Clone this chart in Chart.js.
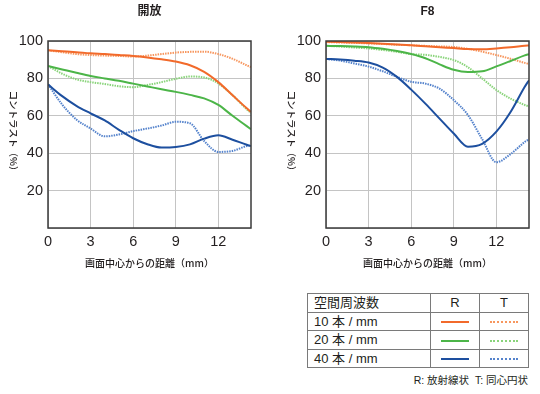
<!DOCTYPE html>
<html>
<head>
<meta charset="utf-8">
<script src="https://cdn.jsdelivr.net/npm/chart.js@4/dist/chart.umd.min.js"></script>
<style>
    body { margin: 0; background: #fff; font-family: "Liberation Sans", "Noto Sans CJK JP", sans-serif; color: #231f20; }
    #page { position: relative; width: 540px; height: 394px; overflow: hidden; }
    .box { position: absolute; top: 0; width: 270px; height: 280px; }
    #legend { position: absolute; left: 307px; top: 293px; border-collapse: collapse; font-size: 13px; }
    #legend td { border: 1px solid #7a7a7a; padding: 0 0 0 6px; height: 17.5px; line-height: 17px; }
    #legend td.c { width: 48px; padding: 0; text-align: center; }
    #legend td.name { width: 116px; }
    .mark { display: inline-block; width: 28px; vertical-align: middle; border-top-width: 2px; }
    #note { position: absolute; right: 12px; top: 372px; font-size: 10.5px; }
</style>
</head>
<body>
<div id="page">
    <div class="box" style="left:0"><canvas id="open"></canvas></div>
    <div class="box" style="left:270px"><canvas id="f8"></canvas></div>
    <table id="legend"></table>
    <div id="note">R: 放射線状&nbsp;&nbsp;T: 同心円状</div>
</div>
<script>
// image height (mm) at which each value is read
var distance = [0, 1, 2, 3, 4, 5, 6, 7, 8, 9, 10, 11, 12, 13, 14, 14.3];
var xTicks = [0, 3, 6, 9, 12];
var yTicks = [0, 20, 40, 60, 80, 100];

var frequencies = ['10 本 / mm', '20 本 / mm', '40 本 / mm'];

// 開放
var open10R = [95, 94.5, 94, 93.4, 93, 92.5, 92, 91.2, 90.2, 89, 87, 83.5, 78, 71, 64, 62];
var open10T = [95, 94, 93, 92.5, 92.2, 92, 91.7, 92.2, 93, 93.8, 94.2, 94.3, 93, 90.5, 87, 86];
var open20R = [86.6, 84.8, 83, 81.3, 80, 78.7, 77.2, 75.7, 74.2, 72.8, 71.2, 69.3, 65.8, 60, 54.5, 52.8];
var open20T = [86.6, 82.5, 79.5, 78, 77, 75.8, 75.3, 76.5, 78, 79.8, 81, 80.5, 77.3, 71, 63.5, 61.5];
var open40R = [76.8, 70.5, 65.3, 61.3, 57.5, 52.5, 48, 44.8, 43, 43.3, 44.7, 47.8, 49.6, 47.2, 44.5, 43.8];
var open40T = [76.8, 66, 58, 53.2, 49, 50, 51.8, 53.2, 54.8, 56.8, 56, 46.5, 40.7, 41.2, 43.8, 44];

// F8
var f8_10R = [99.6, 99.4, 99.2, 98.9, 98.5, 98.1, 97.7, 97.2, 96.7, 96.2, 95.7, 95.6, 96, 96.6, 97.4, 97.6];
var f8_10T = [99.4, 99.2, 99, 98.7, 98.4, 98, 97.7, 97.4, 97.1, 96.8, 95.8, 94.3, 92.5, 90.5, 88.3, 87.7];
var f8_20R = [97.4, 97.3, 97.1, 96.7, 95.8, 94.6, 93, 90.8, 87.5, 84.6, 83.4, 83.8, 86.4, 89.3, 92.3, 93];
var f8_20T = [97.4, 97, 96.5, 96, 95.2, 94.2, 93, 92.6, 91.5, 89.8, 86, 80, 73.8, 69.2, 65.8, 65];
var f8_40R = [90.4, 90.1, 89.5, 88.5, 85.8, 80.8, 74, 66.5, 58.5, 50.5, 43.5, 45, 51.5, 62, 75.5, 79];
var f8_40T = [90.4, 89.5, 88, 86.3, 83.8, 80.8, 78.2, 77.2, 74.5, 68.4, 60.4, 47.5, 35.2, 39.5, 46, 47.4];

var solidColors = ['#f26a2b', '#4cb548', '#1d4f9f'];
var dottedColors = ['#f7975f', '#8ad47b', '#5583cc'];

var textColor = '#231f20';
var latin = '"Liberation Sans", "Noto Sans CJK JP", sans-serif';
var cjk = '"Noto Sans CJK JP", sans-serif';

function points(values) {
    return values.map(function (v, i) {
        return {x: distance[i], y: v};
    });
}

// titles and frame drawn on top of the plot area
var decor = {
    id: 'decor',
    afterDatasetsDraw: function (chart, args, opts) {
        var ctx = chart.ctx;
        var a = chart.chartArea;
        ctx.save();
        ctx.strokeStyle = '#3a3a3a';
        ctx.lineWidth = 1.5;
        ctx.strokeRect(a.left, a.top, a.right - a.left, a.bottom - a.top);

        ctx.fillStyle = textColor;
        ctx.textAlign = 'center';
        ctx.textBaseline = 'middle';
        var cx = (a.left + a.right) / 2;

        ctx.font = 'bold 12px ' + latin;
        ctx.fillText(opts.title, cx, 12);

        ctx.font = '500 10px ' + cjk;
        ctx.fillText('画面中心からの距離（mm）', cx, 263);

        ctx.translate(opts.yTitleX, 133);
        ctx.rotate(Math.PI / 2);
        ctx.font = '500 9.5px ' + cjk;
        ctx.fillText('コントラスト（%）', 0, 0);
        ctx.restore();
    }
};

function makeChart(id, title, series, yWidth, rightPad, yTitleX) {
    var datasets = [];
    for (var i = 0; i < 3; i++) {
        datasets.push({
            label: frequencies[i] + ' R',
            data: points(series[i * 2]),
            borderColor: solidColors[i],
            borderWidth: 2
        });
        datasets.push({
            label: frequencies[i] + ' T',
            data: points(series[i * 2 + 1]),
            borderColor: dottedColors[i],
            borderWidth: 2,
            borderDash: [1.5, 1]
        });
    }
    // the order puts the solid lines above the dotted ones
    datasets = [datasets[0], datasets[2], datasets[4], datasets[1], datasets[3], datasets[5]];

    return new Chart(document.getElementById(id), {
        type: 'line',
        data: {datasets: datasets},
        plugins: [decor],
        options: {
            responsive: false,
            animation: false,
            devicePixelRatio: 1,
            layout: {padding: {left: 0, right: rightPad, top: 41, bottom: 0}},
            elements: {
                point: {radius: 0},
                line: {cubicInterpolationMode: 'monotone', fill: false}
            },
            plugins: {
                legend: {display: false},
                tooltip: {enabled: false},
                decor: {title: title, yTitleX: yTitleX}
            },
            scales: {
                x: {
                    type: 'linear',
                    min: 0,
                    max: 14.3,
                    afterFit: function (scale) { scale.height = 52; },
                    afterBuildTicks: function (scale) {
                        scale.ticks = xTicks.map(function (v) { return {value: v}; });
                    },
                    border: {display: false},
                    grid: {color: '#c4c4c4', lineWidth: 1, drawTicks: false},
                    ticks: {
                        padding: 5,
                        color: textColor,
                        font: {family: latin, size: 14.5}
                    }
                },
                y: {
                    min: 0,
                    max: 100,
                    afterFit: function (scale) { scale.width = yWidth; },
                    afterBuildTicks: function (scale) {
                        scale.ticks = yTicks.map(function (v) { return {value: v}; });
                    },
                    border: {display: false},
                    grid: {color: '#c4c4c4', lineWidth: 1, drawTicks: false},
                    ticks: {
                        padding: 5,
                        color: textColor,
                        font: {family: latin, size: 14.5},
                        callback: function (v) { return v === 0 ? '' : v; }
                    }
                }
            }
        }
    });
}

document.getElementById('open').width = 270;
document.getElementById('open').height = 280;
document.getElementById('f8').width = 270;
document.getElementById('f8').height = 280;

makeChart('open', '開放', [open10R, open10T, open20R, open20T, open40R, open40T], 48, 19, 14);
makeChart('f8', 'F8', [f8_10R, f8_10T, f8_20R, f8_20T, f8_40R, f8_40T], 56, 11, 22);

// legend table
var table = document.getElementById('legend');
var html = '<tr><td class="name">空間周波数</td><td class="c">R</td><td class="c">T</td></tr>';
for (var i = 0; i < frequencies.length; i++) {
    html += '<tr><td class="name">' + frequencies[i] + '</td>' +
        '<td class="c"><span class="mark" style="border-top-style:solid;border-top-color:' + solidColors[i] + '"></span></td>' +
        '<td class="c"><span class="mark" style="border-top-style:dotted;border-top-color:' + dottedColors[i] + '"></span></td></tr>';
}
table.innerHTML = html;
</script>
</body>
</html>
